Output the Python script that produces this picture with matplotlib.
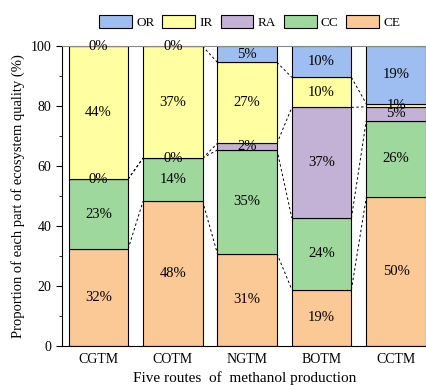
import matplotlib.pyplot as plt
import numpy as np

plt.rcParams['font.family'] = ['Liberation Serif', 'DejaVu Serif']

# Five methanol production routes and the share of each ecosystem-quality part (%)
routes = ['CGTM', 'COTM', 'NGTM', 'BOTM', 'CCTM']
ce = [32.4, 48.3, 30.8, 18.8, 49.6]
cc = [23.3, 14.4, 34.6, 23.9, 25.6]
ra = [0.0, 0.0, 2.2, 36.9, 4.6]
ir = [44.3, 37.3, 27.0, 10.0, 1.0]
orr = [0.0, 0.0, 5.4, 10.4, 19.2]

parts = ['CE', 'CC', 'RA', 'IR', 'OR']
series = [ce, cc, ra, ir, orr]
colors = ['#fbc995', '#9fd89c', '#c4b1d6', '#fffea0', '#9ebef2']

fig = plt.figure(figsize=(4.27, 3.85), dpi=100)
ax = fig.add_axes([0.145, 0.101, 0.854, 0.779])

x = np.arange(len(routes))
width = 0.8
bottom = np.zeros(len(routes))
handles = {}
tops = []
for name, vals, col in zip(parts, series, colors):
    vals = np.array(vals)
    bars = ax.bar(x, vals, width, bottom=bottom, color=col,
                  edgecolor='black', linewidth=0.8, label=name)
    handles[name] = bars
    for xi, b, v in zip(x, bottom, vals):
        ax.text(xi, b + v / 2, '%.0f%%' % v, ha='center', va='center',
                fontsize=10.5)
    bottom = bottom + vals
    tops.append(bottom.copy())

# dashed links between the segment boundaries of neighbouring bars
for t in tops:
    for i in range(len(routes) - 1):
        ax.plot([x[i] + width / 2, x[i + 1] - width / 2], [t[i], t[i + 1]],
                ls=(0, (2.5, 2.5)), color='black', lw=0.7, zorder=0.5)

ax.set_xlim(-0.49, 4.41)
ax.set_ylim(0, 100)
ax.set_xticks(x)
ax.set_xticklabels(routes, fontsize=10)
ax.tick_params(axis='x', length=0, pad=5)
ax.set_yticks(np.arange(0, 101, 20))
ax.set_yticks(np.arange(10, 100, 20), minor=True)
ax.tick_params(axis='y', which='major', direction='out', length=4, labelsize=10)
ax.tick_params(axis='y', which='minor', direction='out', length=2.5)
ax.spines['top'].set_color('#888888')
ax.spines['right'].set_color('#666666')

ax.set_xlabel('Five routes  of  methanol production', fontsize=11, labelpad=4)
ax.set_ylabel('Proportion of each part of ecosystem quality (%)', fontsize=10.5,
              labelpad=4)

order = ['OR', 'IR', 'RA', 'CC', 'CE']
fig.legend([handles[k] for k in order], order, loc='center',
           bbox_to_anchor=(0.585, 0.943), ncol=5, frameon=False, fontsize=9.5,
           handlelength=2.5, handleheight=1.1, handletextpad=0.3,
           columnspacing=0.6)

fig.savefig('out.png', dpi=100)
